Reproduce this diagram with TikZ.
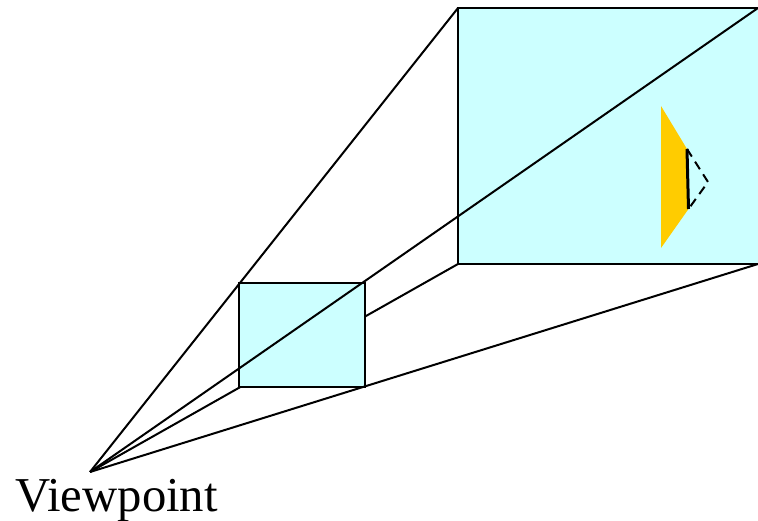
\documentclass[tikz,border=0pt]{standalone}
\usepackage{fontspec}
\setmainfont{Liberation Serif}
\definecolor{pale}{RGB}{204,255,255}
\definecolor{amber}{RGB}{255,204,0}
\tikzset{
  ray/.style={draw=black,line width=2pt},
  panel/.style={draw=black,line width=2pt,fill=pale,line join=miter},
  hidden edge/.style={draw=black,line width=2pt,dash pattern=on 9pt off 6pt},
  front edge/.style={draw=black,line width=3pt}
}
\begin{document}
\begin{tikzpicture}[x=1pt,y=-1pt]
\useasboundingbox (0,0) rectangle (758,521);
\clip (0,0) rectangle (758,521);
\coordinate (vp) at (90,472);
\coordinate (bigTL) at (458,8);
\coordinate (bigTR) at (758,8);
\coordinate (bigBL) at (458,264);
\coordinate (bigBR) at (758,264);
\coordinate (bigOff) at (762,264);
\coordinate (smallTL) at (239,283);
\coordinate (smallBR) at (365,387);
\coordinate (fa) at (661,106);
\coordinate (fb) at (661,248);
\coordinate (fc) at (688.5,209);
\coordinate (fd) at (687,149);
\coordinate (tip) at (708,182);
\draw[panel] (bigTL) rectangle (bigOff);
\draw[ray] (vp) -- (bigBL);
\draw[panel] (smallTL) rectangle (smallBR);
\draw[ray] (vp) -- (bigTL);
\draw[ray] (vp) -- (bigTR);
\draw[ray] (vp) -- (bigBR);
\fill[amber] (fa) -- (fd) -- (fc) -- (fb) -- cycle;
\draw[hidden edge] (fd) -- (tip) -- (fc);
\draw[front edge] (fd) -- (fc);
\node[anchor=base,inner sep=0pt,font=\fontsize{48.7}{48.7}\selectfont] (label) at (116.5,511) {Viewpoint};
\end{tikzpicture}
\end{document}
